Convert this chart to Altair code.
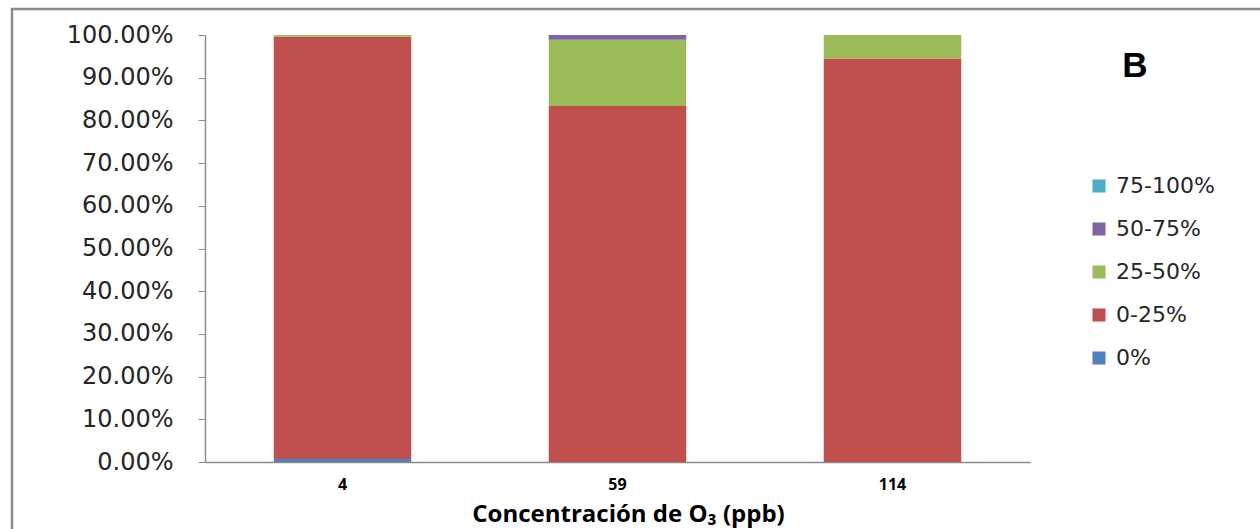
import altair as alt
import pandas as pd

# Ozone concentrations (ppb) on the x axis
categories = ["4", "59", "114"]

# Damage classes, bottom of the stack first
classes = ["0%", "0-25%", "25-50%", "50-75%", "75-100%"]
colors_by_class = ["#4F81BD", "#C0504D", "#9BBB59", "#8064A2", "#4BACC6"]

# Share of leaves in each class, per concentration
share_0 = [0.007, 0.0, 0.0]
share_0_25 = [0.989, 0.834, 0.945]
share_25_50 = [0.004, 0.155, 0.055]
share_50_75 = [0.0, 0.011, 0.0]
share_75_100 = [0.0, 0.0, 0.0]

series = [share_0, share_0_25, share_25_50, share_50_75, share_75_100]
rows = []
for rank, (name, vals) in enumerate(zip(classes, series)):
    for cat, v in zip(categories, vals):
        rows.append({"conc": cat, "clase": name, "share": v, "rank": rank})
df = pd.DataFrame(rows)

legend_order = classes[::-1]
legend_colors = colors_by_class[::-1]

W, H = 825, 427
PAD_L, PAD_T = 205, 35

bars = alt.Chart(df).mark_bar().encode(
    x=alt.X(
        "conc:N",
        sort=categories,
        scale=alt.Scale(paddingInner=0.5, paddingOuter=0.25),
        axis=alt.Axis(
            title="Concentración de O₃ (ppb)",
            labelAngle=0,
            ticks=False,
            labelFont="Open Sans",
            labelFontWeight="bold",
            labelFontSize=16,
            labelColor="#000000",
            labelPadding=14,
            titleFont="Open Sans",
            titleFontWeight="bold",
            titleFontSize=24,
            titleColor="#000000",
            titleBaseline="alphabetic",
            titleY=59,
            titleX=423,
            titleAlign="center",
            titleAnchor="start",
            domainColor="#8c8c8c",
            domainWidth=1.5,
        ),
    ),
    y=alt.Y(
        "share:Q",
        stack="zero",
        scale=alt.Scale(domain=[0, 1], nice=False),
        axis=alt.Axis(
            title=None,
            format=".2%",
            values=[i / 10 for i in range(11)],
            grid=False,
            tickSize=7,
            tickColor="#8c8c8c",
            domainColor="#8c8c8c",
            domainWidth=1.5,
            labelFont="DejaVu Sans",
            labelFontSize=24,
            labelColor="#262626",
            labelPadding=25,
        ),
    ),
    color=alt.Color(
        "clase:N",
        scale=alt.Scale(domain=legend_order, range=legend_colors),
        legend=alt.Legend(
            title=None,
            orient="none",
            legendX=883,
            legendY=140,
            padding=0,
            symbolType="square",
            symbolSize=170,
            symbolStrokeWidth=0,
            labelFont="DejaVu Sans",
            labelFontSize=22,
            labelColor="#262626",
            labelOffset=6,
            rowPadding=21,
        ),
    ),
    order=alt.Order("rank:Q", sort="ascending"),
)

panel_label = alt.Chart(pd.DataFrame({"t": ["B"]})).mark_text(
    font="Liberation Sans", fontWeight="bold", fontSize=35, color="#000000"
).encode(text="t:N", x=alt.value(930), y=alt.value(31))

frame = alt.Chart(pd.DataFrame({"a": [0]})).mark_rect(
    fillOpacity=0, stroke="#8c8c8c", strokeWidth=2.5
).encode(
    x=alt.value(12 - PAD_L),
    x2=alt.value(1300 - PAD_L),
    y=alt.value(9 - PAD_T),
    y2=alt.value(600 - PAD_T),
)

chart = alt.layer(frame, bars, panel_label).properties(
    width=W,
    height=H,
    autosize=alt.AutoSizeParams(type="none"),
    padding={"left": PAD_L, "top": PAD_T, "right": 1260 - PAD_L - W, "bottom": 529 - PAD_T - H},
    background="white",
).configure_view(strokeWidth=0)

chart.save("out.html", embed_options={"renderer": "svg", "actions": False})
